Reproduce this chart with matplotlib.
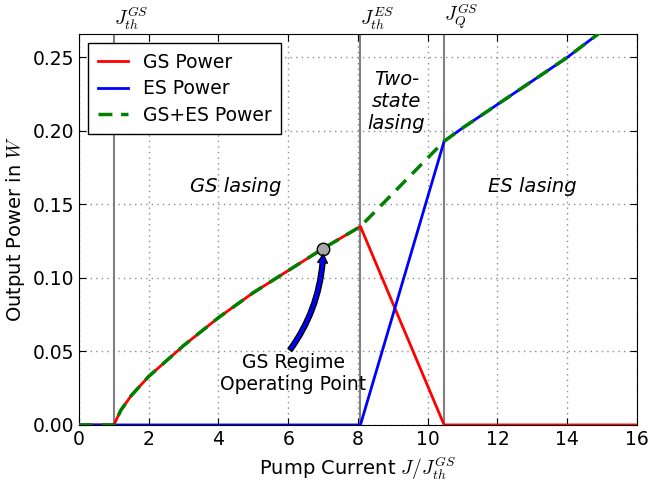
import matplotlib
matplotlib.use("Agg")
import matplotlib.pyplot as plt
import numpy as np

plt.rcParams['mathtext.fontset'] = 'cm'
plt.rcParams['font.family'] = ['DejaVu Sans']

# Pump current (normalised) and output powers
J = [0, 1, 1.2, 1.5, 2, 3, 4, 5, 6, 7, 8.07, 10.47, 11, 12, 13, 14, 15, 16]
P_gs = [0, 0, 0.010, 0.020, 0.033, 0.054, 0.073, 0.090, 0.105, 0.120, 0.135,
        0, 0, 0, 0, 0, 0, 0]
P_es = [0, 0, 0, 0, 0, 0, 0, 0, 0, 0, 0,
        0.193, 0.202, 0.218, 0.234, 0.250, 0.268, 0.286]
P_sum = np.array(P_gs) + np.array(P_es)

J_th_gs = 1.0
J_th_es = 8.07
J_q_gs = 10.47
J_op = 7.0

fig, ax = plt.subplots(figsize=(6.5, 4.84), dpi=100)
fig.subplots_adjust(left=0.1215, right=0.98, bottom=0.122, top=0.93)

for xv in [J_th_gs, J_th_es, J_q_gs]:
    ax.axvline(xv, color='0.5', lw=1.5, zorder=1)

ax.plot(J, P_gs, color='r', lw=2, label='GS Power', zorder=3)
ax.plot(J, P_es, color='b', lw=2, label='ES Power', zorder=3)
ax.plot(J, P_sum, color='g', lw=2.5, ls='--', dashes=(4, 2.5), label='GS+ES Power', zorder=4)

y_op = np.interp(J_op, J, P_gs)
ax.plot([J_op], [y_op], 'o', ms=9, mfc='0.65', mec='k', mew=1, zorder=5)
ax.text(6.15, 0.035, 'GS Regime\nOperating Point', ha='center', va='center', fontsize=13.5)
ax.annotate('', xy=(J_op, y_op - 0.004), xytext=(6.05, 0.051),
            arrowprops=dict(arrowstyle='simple,head_width=0.7,head_length=0.6,tail_width=0.35',
                            fc='b', ec='k', lw=1, shrinkA=0, shrinkB=0,
                            connectionstyle='arc3,rad=0.15'),
            zorder=6)

ax.text(4.5, 0.162, 'GS lasing', style='italic', fontsize=14, ha='center', va='center')
ax.text(9.1, 0.22, 'Two-\nstate\nlasing', style='italic', fontsize=14, ha='center', va='center',
        linespacing=1.2)
ax.text(13.0, 0.162, 'ES lasing', style='italic', fontsize=14, ha='center', va='center')

for xv, lab in [(J_th_gs, r'$J_{th}^{GS}$'), (J_th_es, r'$J_{th}^{ES}$'), (J_q_gs, r'$J_{Q}^{GS}$')]:
    ax.text(xv, 1.006, lab, transform=ax.get_xaxis_transform(), ha='left', va='bottom', fontsize=14)

ax.set_xlim(0, 16)
ax.set_ylim(0, 0.266)
ax.set_xticks(np.arange(0, 17, 2))
ax.set_yticks(np.arange(0, 0.26, 0.05))
ax.yaxis.set_major_formatter(matplotlib.ticker.FormatStrFormatter('%.2f'))
ax.tick_params(direction='in', top=True, right=True, labelsize=13.5, length=5)
ax.grid(True, color='0.55', lw=1, dashes=(1, 3))
ax.set_axisbelow(True)

ax.set_xlabel(r'Pump Current $J/J_{th}^{GS}$', fontsize=14)
ax.set_ylabel(r'Output Power in $W$', fontsize=14)

ax.legend(loc='upper left', fontsize=13.5, fancybox=False, edgecolor='k', handlelength=1.6,
          borderpad=0.5, labelspacing=0.4, framealpha=1)

fig.savefig('out.png', dpi=100)
